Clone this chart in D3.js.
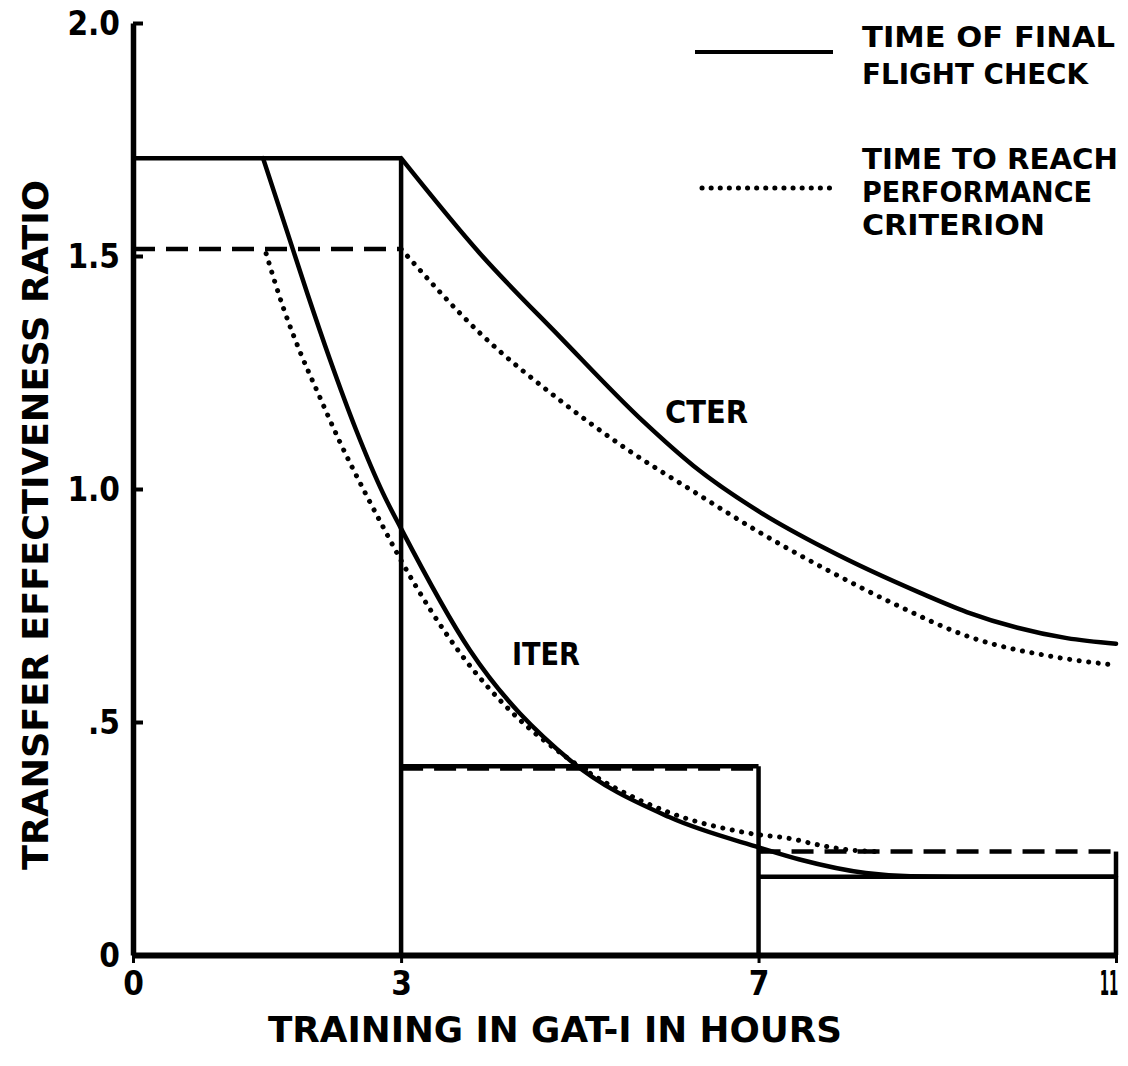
<!DOCTYPE html>
<html>
<head>
<meta charset="utf-8">
<script src="https://cdn.jsdelivr.net/npm/d3@7"></script>
<style>
  body { margin: 0; background: #fff; }
  text { font-family: "DejaVu Sans Condensed", "DejaVu Sans", sans-serif; font-weight: bold; fill: #000; }
</style>
</head>
<body>
<div id="chart"></div>
<script>
// step bars: training periods (hours) and ratios
const periodEdges = [0, 3, 7, 11];
const flightCheckBars = [1.71, 0.405, 0.168];
const criterionBars = [1.515, 0.40, 0.222];

// CTER curves
const cterFlightX = [3, 3.88, 4.78, 5.71, 6.27, 7.02, 7.77, 8.81, 9.33, 10.45, 11];
const cterFlightY = [1.71, 1.506, 1.326, 1.145, 1.05, 0.95, 0.87, 0.777, 0.736, 0.68, 0.668];
const cterCritX = [3, 3.88, 4.78, 5.53, 6.27, 7.02, 7.77, 8.5, 9.4, 10.3, 11];
const cterCritY = [1.515, 1.335, 1.19, 1.085, 0.995, 0.906, 0.826, 0.755, 0.68, 0.64, 0.622];

// ITER curves
const iterFlightX = [1.455, 1.72, 1.95, 2.2, 2.5, 2.8, 3.0, 3.77, 4.89, 6.0, 7.02, 7.46, 8.2, 8.7, 9.2, 11];
const iterFlightY = [1.71, 1.555, 1.42, 1.28, 1.125, 0.99, 0.915, 0.654, 0.418, 0.296, 0.23, 0.205, 0.176, 0.169, 0.168, 0.168];
const iterCritX = [1.49, 1.68, 1.87, 2.07, 2.32, 2.6, 2.8, 2.99, 3.66, 4.25, 4.86, 6.01, 6.87, 7.43, 7.58, 8.0, 8.3];
const iterCritY = [1.505, 1.39, 1.294, 1.206, 1.099, 0.991, 0.918, 0.85, 0.648, 0.519, 0.423, 0.305, 0.262, 0.247, 0.24, 0.226, 0.222];

const xTicks = [0, 3, 7, 11];
const xTickLabels = ['0', '3', '7', '11'];
const yTicks = [0, 0.5, 1.0, 1.5, 2.0];
const yTickLabels = ['0', '.5', '1.0', '1.5', '2.0'];

const width = 1128, height = 1066;
const svg = d3.select('#chart').append('svg')
    .attr('width', width)
    .attr('height', height);

const x = d3.scaleLinear().domain([0, 11]).range([133, 1116]);
const y = d3.scaleLinear().domain([0, 2]).range([955, 23]);

const lw = 4.5;
const dotted = '0.1 9.5';
const dashed = '22 11';

// axes
const yAxis = svg.append('g')
    .attr('transform', `translate(${x(0)},0)`)
    .call(d3.axisLeft(y).tickValues(yTicks).tickSize(-10).tickSizeOuter(0).tickPadding(13)
        .tickFormat((d, i) => yTickLabels[i]));
yAxis.select('.domain').attr('stroke-width', 5.5);
yAxis.selectAll('.tick line').attr('stroke-width', 4);
yAxis.selectAll('.tick text').style('font-size', '33px').attr('dy', '0.36em');

const xAxis = svg.append('g')
    .attr('transform', `translate(0,${y(0)})`)
    .call(d3.axisBottom(x).tickValues(xTicks).tickSize(8).tickSizeOuter(0).tickPadding(9)
        .tickFormat((d, i) => xTickLabels[i]));
xAxis.select('.domain').attr('stroke-width', 6);
xAxis.selectAll('.tick line').attr('stroke-width', 3);
xAxis.selectAll('.tick text').style('font-size', '33px');
// the "11" label is narrow in the original lettering
xAxis.selectAll('.tick text').filter(d => d === 11)
    .attr('text-anchor', 'end').attr('x', 4)
    .attr('transform', 'scale(0.45,1)');

// step bars
const bars = svg.append('g').attr('fill', 'none').attr('stroke', '#000').attr('stroke-width', lw);
flightCheckBars.forEach((v, i) => {
    bars.append('line')
        .attr('x1', x(periodEdges[i])).attr('x2', x(periodEdges[i + 1]))
        .attr('y1', y(v)).attr('y2', y(v));
});
criterionBars.forEach((v, i) => {
    bars.append('line')
        .attr('x1', x(periodEdges[i])).attr('x2', x(periodEdges[i + 1]))
        .attr('y1', y(v)).attr('y2', y(v))
        .attr('stroke-dasharray', dashed);
});
// verticals at the right end of each period
periodEdges.slice(1).forEach((e, i) => {
    const top = Math.max(flightCheckBars[i], criterionBars[i]);
    bars.append('line')
        .attr('x1', x(e)).attr('x2', x(e))
        .attr('y1', y(0)).attr('y2', y(top));
});

// curves
const line = d3.line().x(d => x(d[0])).y(d => y(d[1])).curve(d3.curveMonotoneX);
const curves = [
    [cterFlightX, cterFlightY, null],
    [cterCritX, cterCritY, dotted],
    [iterFlightX, iterFlightY, null],
    [iterCritX, iterCritY, dotted]
];
curves.forEach(([xs, ys, dash]) => {
    svg.append('path')
        .datum(xs.map((v, i) => [v, ys[i]]))
        .attr('d', line)
        .attr('fill', 'none')
        .attr('stroke', '#000')
        .attr('stroke-width', dash ? 5 : lw)
        .attr('stroke-linecap', 'round')
        .attr('stroke-dasharray', dash);
});

// curve labels
svg.append('text').attr('x', 665).attr('y', 423).style('font-size', '32px')
    .attr('textLength', 83).attr('lengthAdjust', 'spacingAndGlyphs').text('CTER');
svg.append('text').attr('x', 512).attr('y', 665).style('font-size', '32px')
    .attr('textLength', 68).attr('lengthAdjust', 'spacingAndGlyphs').text('ITER');

// legend
svg.append('line').attr('x1', 695).attr('x2', 833).attr('y1', 52).attr('y2', 52)
    .attr('stroke', '#000').attr('stroke-width', 4);
svg.append('line').attr('x1', 702).attr('x2', 830).attr('y1', 188).attr('y2', 188)
    .attr('stroke', '#000').attr('stroke-width', 5).attr('stroke-linecap', 'round')
    .attr('stroke-dasharray', '0.1 9');
const legendLines = [
    ['TIME OF FINAL', 47, 253],
    ['FLIGHT CHECK', 84, 226],
    ['TIME TO REACH', 169, 256],
    ['PERFORMANCE', 202, 230],
    ['CRITERION', 235, 183]
];
legendLines.forEach(([t, yy, w]) => {
    svg.append('text').attr('x', 862).attr('y', yy).style('font-size', '28px')
        .attr('textLength', w).attr('lengthAdjust', 'spacingAndGlyphs').text(t);
});

// axis titles
svg.append('text').attr('x', 268).attr('y', 1042).style('font-size', '36px')
    .attr('textLength', 574).attr('lengthAdjust', 'spacingAndGlyphs')
    .text('TRAINING IN GAT-I IN HOURS');
svg.append('text')
    .attr('transform', 'translate(48,870) rotate(-90)')
    .style('font-size', '36px')
    .attr('textLength', 690).attr('lengthAdjust', 'spacingAndGlyphs')
    .text('TRANSFER EFFECTIVENESS RATIO');
</script>
</body>
</html>
